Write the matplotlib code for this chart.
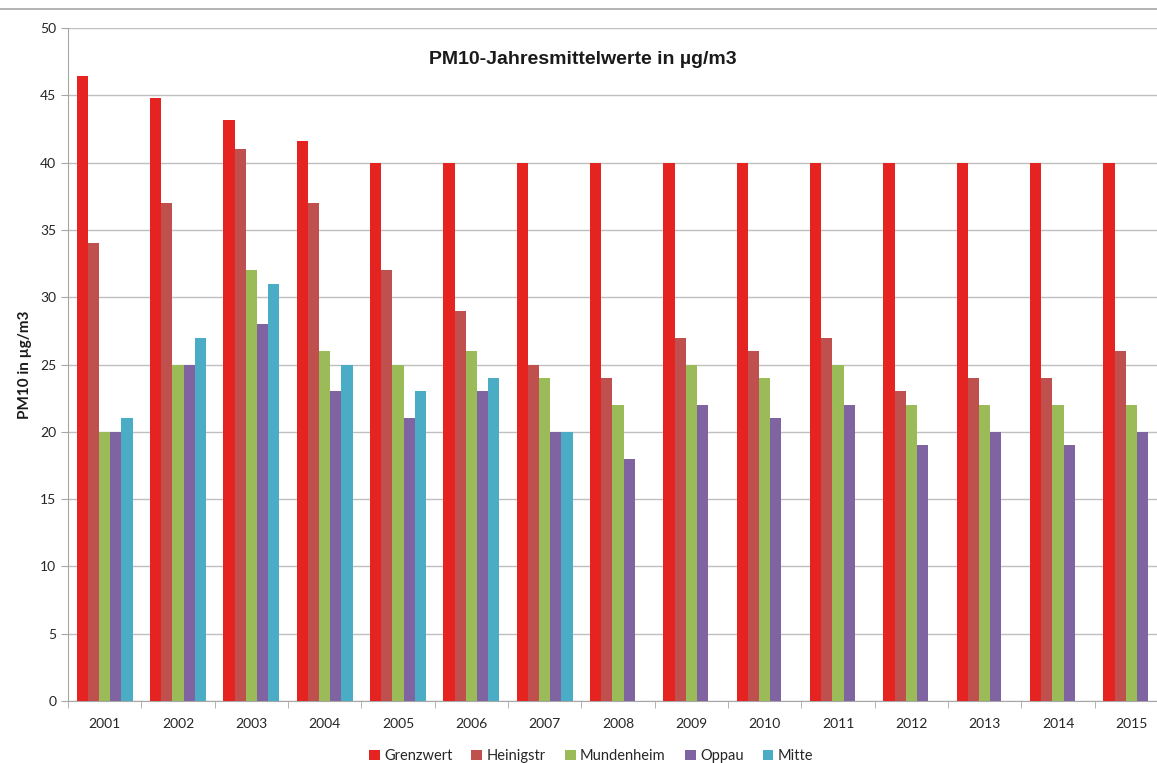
import numpy as np
import matplotlib.pyplot as plt
from matplotlib.lines import Line2D

plt.rcParams['font.family'] = ['Lato', 'DejaVu Sans']

years = ['2001', '2002', '2003', '2004', '2005', '2006', '2007', '2008',
         '2009', '2010', '2011', '2012', '2013', '2014', '2015']
grenzwert = [46.4, 44.8, 43.2, 41.6, 40, 40, 40, 40, 40, 40, 40, 40, 40, 40, 40]
heinigstr = [34, 37, 41, 37, 32, 29, 25, 24, 27, 26, 27, 23, 24, 24, 26]
mundenheim = [20, 25, 32, 26, 25, 26, 24, 22, 25, 24, 25, 22, 22, 22, 22]
oppau = [20, 25, 28, 23, 21, 23, 20, 18, 22, 21, 22, 19, 20, 19, 20]
mitte = [21, 27, 31, 25, 23, 24, 20, np.nan, np.nan, np.nan, np.nan, np.nan, np.nan, np.nan, np.nan]

series = [('Grenzwert', grenzwert, '#E52421'),
          ('Heinigstr', heinigstr, '#C0504D'),
          ('Mundenheim', mundenheim, '#9BBB59'),
          ('Oppau', oppau, '#8064A2'),
          ('Mitte', mitte, '#4BACC6')]

fig = plt.figure(figsize=(11.57, 7.63), dpi=100)
ax = fig.add_axes([68/1157, 1-701/763, 1100/1157, (701-28)/763])

x = np.arange(len(years))
w = 0.153
for i, (name, vals, col) in enumerate(series):
    ax.bar(x + (i - 2) * w, vals, w, color=col, label=name, zorder=3)

ax.set_xlim(-0.5, len(years) - 0.5)
ax.set_ylim(0, 50)
ax.set_yticks(range(0, 51, 5))
ax.set_xticks(x)
ax.set_xticklabels(years)
ax.set_xticks(np.arange(-0.5, len(years), 1), minor=True)
ax.tick_params(axis='x', which='major', length=0, pad=12, labelsize=10, labelcolor='#262626')
ax.tick_params(axis='x', which='minor', length=5, color='#A6A6A6', direction='out')
ax.tick_params(axis='y', length=5, color='#A6A6A6', labelsize=10, labelcolor='#262626')
ax.grid(axis='y', color='#BFBFBF', linewidth=1, zorder=0)
for s in ['top', 'right']:
    ax.spines[s].set_visible(False)
for s in ['left', 'bottom']:
    ax.spines[s].set_color('#A6A6A6')

ax.set_ylabel('PM10 in µg/m3', fontsize=11, fontweight='bold', color='#1a1a1a', labelpad=6)
fig.text(583/1157, 1-60/763, 'PM10-Jahresmittelwerte in µg/m3', ha='center', va='center',
         fontsize=14, fontweight='bold', color='#1a1a1a',
         family=['Liberation Sans', 'DejaVu Sans'])

fig.add_artist(Line2D([0, 1], [1-9/763, 1-9/763], color='#A6A6A6', linewidth=1.2))

fig.legend(loc='center', bbox_to_anchor=(591/1157, 1-756/763), ncol=5, frameon=False,
           fontsize=10.5, handlelength=0.75, handleheight=0.75, handletextpad=0.3,
           columnspacing=1.3, labelcolor='#262626')

plt.savefig('out.png', dpi=100)
